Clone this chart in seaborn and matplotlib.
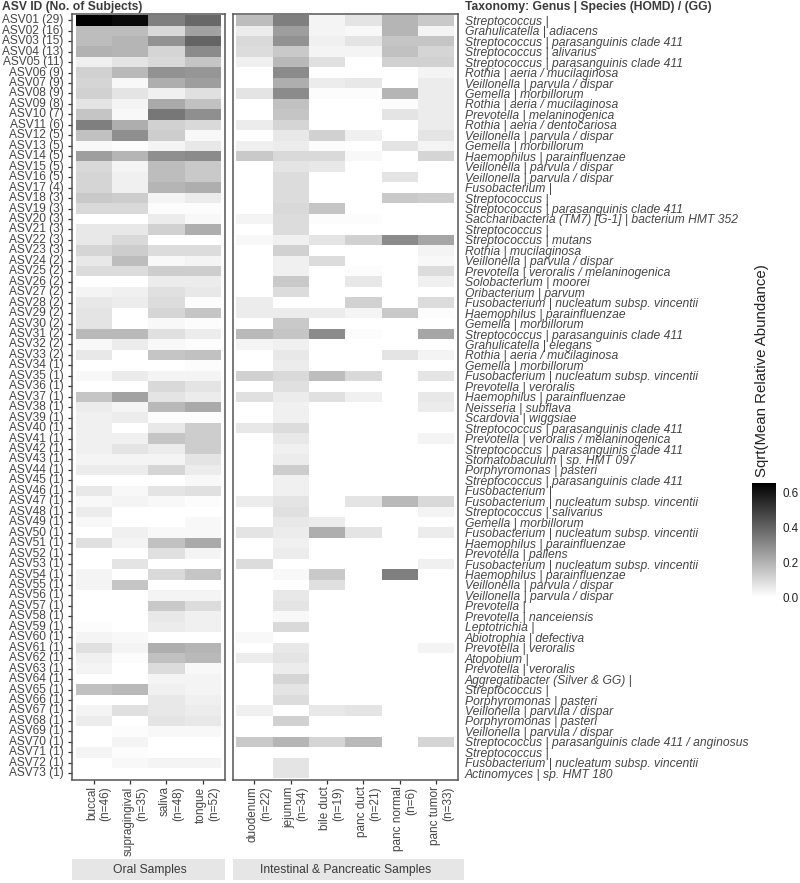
import numpy as np
import pandas as pd
import matplotlib.pyplot as plt
import matplotlib.transforms as mtrans
from matplotlib.colors import LinearSegmentedColormap
import seaborn as sns

# ASV ids and number of subjects
subjects = [29, 16, 15, 13, 11, 9, 9, 9, 8, 7, 6, 5, 5, 5, 5, 5, 4, 3, 3, 3, 3, 3, 3,
            2, 2, 2, 2, 2, 2, 2, 2, 2, 2] + [1] * 40

taxonomy = [
    'Streptococcus |', 'Granulicatella | adiacens', 'Streptococcus | parasanguinis clade 411',
    'Streptococcus | alivarius', 'Streptococcus | parasanguinis clade 411', 'Rothia | aeria / mucilaginosa',
    'Veillonella | parvula / dispar', 'Gemella | morbillorum', 'Rothia | aeria / mucilaginosa',
    'Prevotella | melaninogenica', 'Rothia | aeria / dentocariosa', 'Veillonella | parvula / dispar',
    'Gemella | morbillorum', 'Haemophilus | parainfluenzae', 'Veillonella | parvula / dispar',
    'Veillonella | parvula / dispar', 'Fusobacterium |', 'Streptococcus |',
    'Streptococcus | parasanguinis clade 411', 'Saccharibacteria (TM7) [G-1] | bacterium HMT 352',
    'Streptococcus |', 'Streptococcus | mutans', 'Rothia | mucilaginosa',
    'Veillonella | parvula / dispar', 'Prevotella | veroralis / melaninogenica', 'Solobacterium | moorei',
    'Oribacterium | parvum', 'Fusobacterium | nucleatum subsp. vincentii', 'Haemophilus | parainfluenzae',
    'Gemella | morbillorum', 'Streptococcus | parasanguinis clade 411', 'Granulicatella | elegans',
    'Rothia | aeria / mucilaginosa', 'Gemella | morbillorum', 'Fusobacterium | nucleatum subsp. vincentii',
    'Prevotella | veroralis', 'Haemophilus | parainfluenzae', 'Neisseria | subflava',
    'Scardovia | wiggsiae', 'Streptococcus | parasanguinis clade 411', 'Prevotella | veroralis / melaninogenica',
    'Streptococcus | parasanguinis clade 411', 'Stomatobaculum | sp. HMT 097', 'Porphyromonas | pasteri',
    'Streptococcus | parasanguinis clade 411', 'Fusobacterium |', 'Fusobacterium | nucleatum subsp. vincentii',
    'Streptococcus | salivarius', 'Gemella | morbillorum', 'Fusobacterium | nucleatum subsp. vincentii',
    'Haemophilus | parainfluenzae', 'Prevotella | pallens', 'Fusobacterium | nucleatum subsp. vincentii',
    'Haemophilus | parainfluenzae', 'Veillonella | parvula / dispar', 'Veillonella | parvula / dispar',
    'Prevotella |', 'Prevotella | nanceiensis', 'Leptotrichia |', 'Abiotrophia | defectiva',
    'Prevotella | veroralis', 'Atopobium |', 'Prevotella | veroralis', 'Aggregatibacter (Silver & GG) |',
    'Streptococcus |', 'Porphyromonas | pasteri', 'Veillonella | parvula / dispar', 'Porphyromonas | pasteri',
    'Veillonella | parvula / dispar', 'Streptococcus | parasanguinis clade 411 / anginosus',
    'Streptococcus |', 'Fusobacterium | nucleatum subsp. vincentii', 'Actinomyces | sp. HMT 180',
]

oral_sites = ['buccal\n(n=46)', 'supragingival\n(n=35)', 'saliva\n(n=48)', 'tongue\n(n=52)']
gut_sites = ['duodenum\n(n=22)', 'jejunum\n(n=34)', 'bile duct\n(n=19)', 'panc duct\n(n=21)',
             'panc normal\n(n=6)', 'panc tumor\n(n=33)']

# values, x100
oral_values = [
    [65, 63, 33, 39], [17, 17, 10, 24], [17, 19, 28, 40], [20, 19, 11, 30], [4, 7, 10, 15],
    [12, 18, 28, 27], [11, 2, 21, 25], [12, 7, 4, 8], [7, 3, 22, 16], [15, 2, 35, 29],
    [33, 21, 12, 10], [16, 29, 13, 2], [2, 1, 3, 6], [25, 19, 29, 30], [10, 3, 17, 14],
    [11, 4, 17, 14], [11, 4, 19, 21], [14, 13, 3, 5], [10, 10, 1, 1], [0, 0, 5, 2],
    [6, 6, 12, 21], [6, 10, 0, 0], [11, 13, 9, 9], [6, 17, 2, 3], [9, 9, 13, 13],
    [0, 0, 5, 5], [3, 4, 8, 6], [6, 5, 9, 1], [7, 0, 11, 15], [7, 0, 2, 1],
    [18, 18, 8, 5], [2, 5, 2, 1], [6, 0, 15, 16], [0, 0, 0, 1], [2, 5, 3, 3],
    [0, 0, 10, 7], [15, 24, 7, 5], [5, 3, 18, 22], [4, 5, 1, 1], [4, 0, 6, 13],
    [4, 4, 15, 13], [4, 7, 5, 13], [3, 3, 3, 7], [5, 5, 11, 5], [0, 0, 0, 2],
    [6, 2, 7, 8], [2, 3, 2, 1], [5, 0, 0, 0], [2, 0, 0, 2], [0, 4, 2, 2],
    [8, 3, 16, 22], [0, 0, 8, 3], [0, 7, 0, 0], [3, 0, 10, 15], [3, 15, 0, 0],
    [0, 0, 3, 3], [0, 0, 14, 9], [0, 0, 6, 4], [1, 0, 5, 4], [3, 2, 0, 0],
    [8, 3, 21, 19], [4, 1, 16, 18], [3, 0, 9, 2], [0, 0, 3, 3], [16, 18, 4, 3],
    [0, 0, 6, 4], [3, 8, 6, 5], [5, 0, 7, 6], [0, 1, 2, 2], [0, 3, 0, 0],
    [3, 1, 0, 0], [0, 2, 3, 3], [0, 0, 0, 0],
]

gut_values = [
    [17, 33, 3, 7, 19, 14], [5, 25, 3, 2, 19, 3], [10, 28, 4, 7, 15, 15], [9, 14, 3, 3, 16, 11],
    [4, 18, 8, 0, 12, 12], [0, 30, 0, 0, 0, 3], [0, 21, 5, 6, 0, 5], [7, 30, 1, 1, 19, 5],
    [0, 16, 0, 0, 1, 5], [0, 15, 0, 0, 7, 5], [5, 11, 0, 0, 0, 5], [0, 6, 12, 4, 0, 7],
    [4, 5, 1, 0, 7, 3], [14, 10, 10, 2, 0, 11], [0, 7, 6, 0, 0, 0], [0, 9, 0, 0, 7, 0],
    [0, 9, 0, 0, 0, 0], [0, 9, 0, 0, 14, 13], [0, 10, 15, 0, 0, 0], [3, 9, 1, 1, 0, 0],
    [0, 9, 0, 0, 0, 0], [2, 4, 7, 12, 30, 23], [0, 12, 0, 0, 0, 3], [0, 4, 9, 0, 0, 2],
    [0, 4, 0, 1, 0, 9], [0, 14, 0, 6, 0, 4], [0, 9, 0, 0, 0, 0], [5, 0, 0, 12, 0, 9],
    [5, 5, 5, 3, 14, 1], [0, 14, 0, 0, 0, 0], [18, 15, 30, 1, 0, 23], [3, 4, 0, 0, 0, 0],
    [0, 6, 0, 0, 7, 3], [0, 5, 0, 0, 0, 0], [12, 10, 17, 10, 0, 7], [0, 8, 0, 0, 0, 0],
    [8, 5, 8, 4, 0, 6], [0, 4, 0, 0, 0, 5], [0, 4, 0, 0, 0, 0], [6, 9, 0, 0, 0, 0],
    [0, 6, 0, 0, 0, 3], [0, 4, 0, 0, 0, 0], [0, 5, 0, 0, 0, 0], [0, 13, 0, 0, 0, 0],
    [0, 4, 0, 0, 0, 0], [0, 4, 0, 0, 0, 0], [5, 7, 0, 7, 18, 10], [0, 8, 0, 0, 0, 3],
    [0, 6, 5, 0, 0, 0], [7, 5, 21, 7, 0, 5], [0, 4, 0, 0, 0, 0], [0, 5, 0, 0, 0, 0],
    [9, 0, 0, 0, 0, 4], [0, 2, 14, 0, 33, 0], [0, 0, 8, 0, 0, 0], [0, 6, 0, 0, 0, 0],
    [0, 7, 0, 0, 0, 0], [0, 2, 0, 0, 0, 0], [0, 10, 0, 0, 0, 0], [2, 0, 0, 0, 0, 0],
    [0, 6, 0, 0, 0, 3], [5, 7, 0, 0, 0, 0], [0, 5, 0, 0, 0, 0], [0, 11, 0, 0, 0, 0],
    [0, 7, 0, 0, 0, 0], [0, 9, 0, 0, 0, 0], [4, 0, 6, 7, 0, 0], [0, 12, 0, 0, 0, 0],
    [0, 0, 0, 0, 0, 0], [14, 19, 11, 18, 0, 11], [0, 0, 0, 0, 0, 0], [0, 7, 0, 0, 0, 0],
    [0, 7, 0, 0, 0, 0],
]

asv_labels = [f'ASV{i + 1:02d} ({n})' for i, n in enumerate(subjects)]
df_oral = pd.DataFrame(oral_values, index=asv_labels, columns=oral_sites) / 100
df_gut = pd.DataFrame(gut_values, index=asv_labels, columns=gut_sites) / 100

sns.set_theme(style='white')
plt.rcParams['font.family'] = ['Liberation Sans', 'DejaVu Sans']

W, H = 800, 883
fig = plt.figure(figsize=(W / 100, H / 100), dpi=100)


def px_axes(x0, y0, x1, y1):
    return fig.add_axes([x0 / W, 1 - y1 / H, (x1 - x0) / W, (y1 - y0) / H])


ax_oral = px_axes(72, 14, 224.5, 779.5)
ax_gut = px_axes(232.5, 14, 458, 779.5)
cax = px_axes(752, 483, 776, 597)

grey_cmap = LinearSegmentedColormap.from_list('grey_ramp', ['white', 'black'])
text_col = '#454545'
border_col = '#555555'

sns.heatmap(df_oral, ax=ax_oral, cmap=grey_cmap, vmin=0, vmax=0.657, cbar=False,
            xticklabels=True, yticklabels=True)
sns.heatmap(df_gut, ax=ax_gut, cmap=grey_cmap, vmin=0, vmax=0.657, cbar_ax=cax,
            xticklabels=True, yticklabels=False)

for ax, n_cols in [(ax_oral, 4), (ax_gut, 6)]:
    ax.set_xlim(-0.1, n_cols + 0.1)
    ax.set_ylim(73.1, -0.1)
    ax.set_xlabel('')
    ax.set_ylabel('')
    for sp in ax.spines.values():
        sp.set_visible(True)
        sp.set_color(border_col)
        sp.set_linewidth(1.1)
    ax.tick_params(axis='x', bottom=True, length=3, width=0.9, color='#333333', pad=2,
                   labelsize=8.5, labelcolor=text_col)
    # two line labels sit a little right of the tick, as in the original
    offset = mtrans.ScaledTranslation(5 / 100, 0, fig.dpi_scale_trans)
    for lab in ax.get_xticklabels():
        lab.set_rotation(90)
        lab.set_ha('center')
        lab.set_va('top')
        lab.set_multialignment('right')
        lab.set_linespacing(1.15)
        lab.set_transform(lab.get_transform() + offset)

ax_oral.tick_params(axis='y', left=True, length=3, width=0.9, color='#333333', pad=3,
                    labelsize=8.6, labelcolor=text_col)
for lab in ax_oral.get_yticklabels():
    lab.set_rotation(0)

# taxonomy names on the right of the second panel
ax_gut.set_yticks(np.arange(73) + 0.5)
ax_gut.yaxis.tick_right()
ax_gut.set_yticklabels(taxonomy, fontstyle='italic', rotation=0)
ax_gut.tick_params(axis='y', right=False, left=False, length=0, pad=5, labelsize=8.7, labelcolor=text_col)

fig.text(2 / W, 1 - 7 / H, 'ASV ID (No. of Subjects)', fontweight='bold', fontsize=8.75,
         color='#3a3a3a', va='center', ha='left')
fig.text(465 / W, 1 - 7 / H, 'Taxonomy: Genus | Species (HOMD) / (GG)', fontweight='bold', fontsize=8.75,
         color='#3a3a3a', va='center', ha='left')

# strips at the bottom
for x0, x1, xc, name in [(72, 224.5, 150, 'Oral Samples'), (233, 464, 346, 'Intestinal & Pancreatic Samples')]:
    fig.patches.append(plt.Rectangle((x0 / W, 1 - 880 / H), (x1 - x0) / W, 21 / H, transform=fig.transFigure,
                                     facecolor='#e6e6e6', edgecolor='none'))
    fig.text(xc / W, 1 - 870 / H, name, ha='center', va='center', fontsize=8.75, color='#3a3a3a')

# colour bar
cbar = ax_gut.collections[0].colorbar
cbar.outline.set_visible(False)
cbar.set_ticks([0.0, 0.2, 0.4, 0.6])
cbar.ax.set_yticklabels(['0.0', '0.2', '0.4', '0.6'])
cax.tick_params(axis='y', left=True, right=True, direction='in', length=4.5, width=0.6, color='white',
                labelsize=8.4, labelcolor='#222222', pad=5)
fig.text(762 / W, 1 - 477 / H, 'Sqrt(Mean Relative Abundance)', rotation=90, ha='center', va='bottom',
         fontsize=10.8, color='#222222')

plt.savefig('out.png', dpi=100)
